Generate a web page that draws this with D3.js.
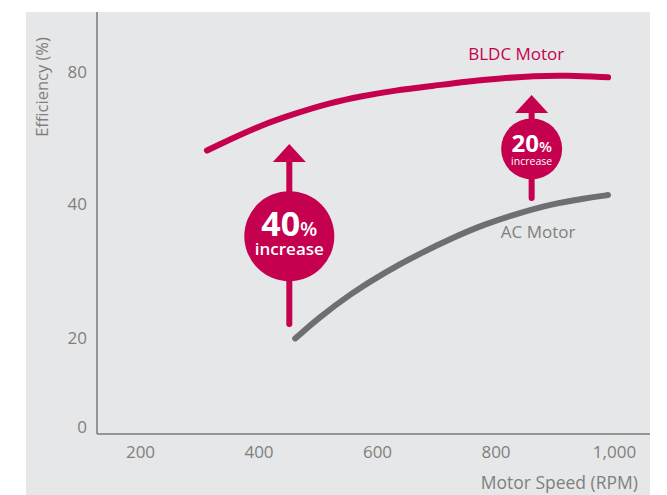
<!DOCTYPE html>
<html>
<head>
<meta charset="utf-8">
<script src="https://cdn.jsdelivr.net/npm/d3@7"></script>
<style>
  html, body { margin: 0; padding: 0; background: #ffffff; }
  svg { display: block; font-family: "Open Sans", "Noto Sans", sans-serif; }
</style>
</head>
<body>
<svg id="chart" width="667" height="495"></svg>
<script>
// ---- data ----
const xTicks = [200, 400, 600, 800, 1000];
const yTicks = [0, 20, 40, 80];

const bldcSpeed = [313, 350, 405, 460, 520, 575, 630, 695, 750, 810, 865, 920, 990];
const bldcEff   = [56.2, 59.4, 63.9, 67.3, 70.6, 72.7, 74.4, 75.8, 77.1, 78.1, 78.8, 79.0, 78.4];

const acSpeed = [462, 500, 557, 613, 670, 726, 782, 838, 895, 951, 990];
const acEff   = [19.9, 22.9, 26.7, 29.8, 32.5, 34.9, 37.0, 38.6, 40.0, 41.7, 42.7];

const seriesLabels = ["BLDC Motor", "AC Motor"];
const labelSpeed = [835, 872];
const labelEff = [83.6, 34.9];

// annotations: speed, arrow base, arrow tip, circle centre, text
const noteSpeed = [452, 861];
const noteFrom = [22.1, 41.8];
const noteTip = [58.2, 73.0];
const noteCenter = [35.2, 56.7];
const noteValue = ["40", "20"];
const noteWord = ["increase", "increase"];

const xTitle = "Motor Speed (RPM)";
const yTitle = "Efficiency (%)";

// ---- layout / styles ----
const panel = { x0: 26, y0: 12, x1: 650, y1: 495 };
const plot = { left: 97, right: 650, top: 12, bottom: 434 };
const MAG = "#c4004f", GREY_LINE = "#6e6f72", TXT = "#7f7f7f", BG = "#e6e7e8";

const svg = d3.select("#chart");

svg.append("rect")
  .attr("x", panel.x0).attr("y", panel.y0)
  .attr("width", panel.x1 - panel.x0).attr("height", panel.y1 - panel.y0)
  .attr("fill", BG);

const x = d3.scaleLinear().domain([200, 1000]).range([140, 614]);
const y = d3.scaleLinear().domain([0, 20, 40, 80]).range([427, 338, 204, 72]);

// axes lines
svg.append("line")
  .attr("x1", plot.left).attr("x2", plot.left)
  .attr("y1", plot.top).attr("y2", plot.bottom)
  .attr("stroke", "#7a7a7a").attr("stroke-width", 1.5);
svg.append("line")
  .attr("x1", plot.left).attr("x2", plot.right)
  .attr("y1", plot.bottom).attr("y2", plot.bottom)
  .attr("stroke", "#7a7a7a").attr("stroke-width", 1.5);

// y axis tick labels
const gy = svg.append("g").attr("transform", `translate(${plot.left},0)`)
  .call(d3.axisLeft(y).tickValues(yTicks).tickSize(0).tickPadding(10));
gy.select(".domain").remove();
gy.selectAll("text").attr("fill", TXT).style("font-size", "17px")
  .style("font-family", "'Open Sans', sans-serif");

// x axis tick labels
const gx = svg.append("g").attr("transform", `translate(0,${plot.bottom})`)
  .call(d3.axisBottom(x).tickValues(xTicks).tickFormat(d3.format(",")).tickSize(0).tickPadding(12));
gx.select(".domain").remove();
gx.selectAll("text").attr("fill", TXT).style("font-size", "17px")
  .style("font-family", "'Open Sans', sans-serif");

// axis titles
svg.append("text")
  .attr("transform", `translate(48,87) rotate(-90)`)
  .attr("text-anchor", "middle")
  .attr("fill", TXT).style("font-size", "16.5px")
  .text(yTitle);
svg.append("text")
  .attr("x", 638).attr("y", 489)
  .attr("text-anchor", "end")
  .attr("fill", TXT).style("font-size", "17.5px")
  .text(xTitle);

// lines
const line = d3.line().x(d => x(d[0])).y(d => y(d[1])).curve(d3.curveBasis);
const bldc = bldcSpeed.map((s, i) => [s, bldcEff[i]]);
const ac = acSpeed.map((s, i) => [s, acEff[i]]);

svg.append("path").datum(ac).attr("d", line)
  .attr("fill", "none").attr("stroke", GREY_LINE)
  .attr("stroke-width", 6).attr("stroke-linecap", "round");
svg.append("path").datum(bldc).attr("d", line)
  .attr("fill", "none").attr("stroke", MAG)
  .attr("stroke-width", 6).attr("stroke-linecap", "round");

// series labels
svg.append("text")
  .attr("x", x(labelSpeed[0])).attr("y", y(labelEff[0]))
  .attr("text-anchor", "middle").attr("fill", MAG).style("font-size", "17px")
  .text(seriesLabels[0]);
svg.append("text")
  .attr("x", x(labelSpeed[1])).attr("y", y(labelEff[1]))
  .attr("text-anchor", "middle").attr("fill", TXT).style("font-size", "17px")
  .text(seriesLabels[1]);

// annotations
const noteStyle = [
  { r: 45, big: 34, pct: 20, word: 17, wordW: 600, valDy: 0, wordDy: 19, head: 18, headW: 16.5 },
  { r: 30.5, big: 24, pct: 15, word: 10.5, wordW: 400, valDy: 3, wordDy: 13, head: 18, headW: 16.5 }
];
noteSpeed.forEach((s, i) => {
  const st = noteStyle[i];
  const cx = x(s), base = y(noteFrom[i]), tip = y(noteTip[i]), cy = y(noteCenter[i]);
  const g = svg.append("g");
  g.append("line")
    .attr("x1", cx).attr("x2", cx).attr("y1", base).attr("y2", tip + st.head - 1)
    .attr("stroke", MAG).attr("stroke-width", 6).attr("stroke-linecap", "round");
  g.append("path")
    .attr("d", `M${cx},${tip} L${cx + st.headW},${tip + st.head} L${cx - st.headW},${tip + st.head} Z`)
    .attr("fill", MAG);
  g.append("circle").attr("cx", cx).attr("cy", cy).attr("r", st.r).attr("fill", MAG);
  const t = g.append("text")
    .attr("x", cx).attr("y", cy + st.valDy)
    .attr("text-anchor", "middle").attr("fill", "#ffffff");
  t.append("tspan").style("font-size", st.big + "px").style("font-weight", 700).text(noteValue[i]);
  t.append("tspan").style("font-size", st.pct + "px").style("font-weight", 600).text("%");
  t.append("tspan")
    .attr("x", cx).attr("dy", st.wordDy)
    .style("font-size", st.word + "px").style("font-weight", st.wordW)
    .text(noteWord[i]);
});
</script>
</body>
</html>
